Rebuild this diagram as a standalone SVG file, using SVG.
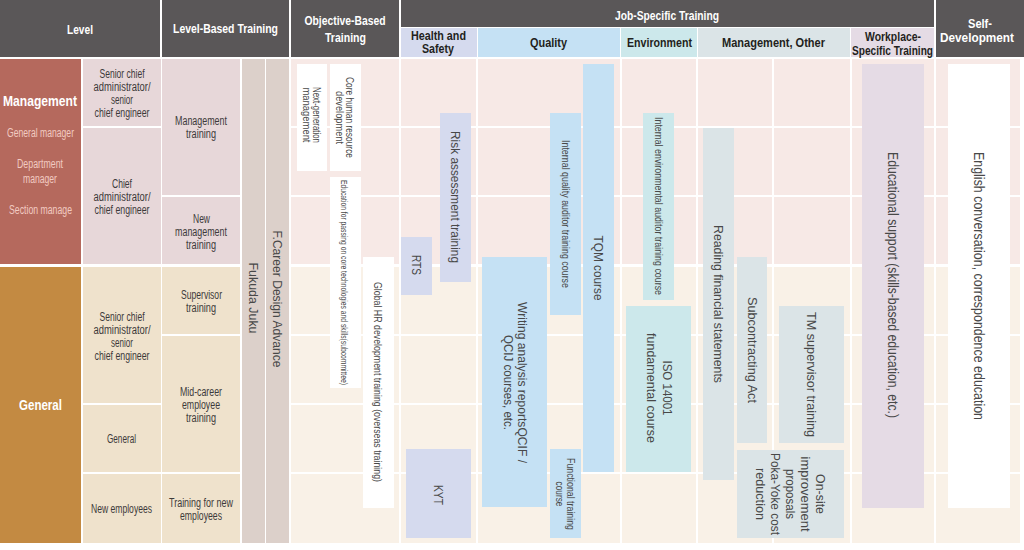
<svg xmlns="http://www.w3.org/2000/svg" width="1024" height="550" viewBox="0 0 1024 550">
<style>
text{font-family:"Liberation Sans",Arial,sans-serif}
.hd{font-weight:bold;font-size:13.5px;fill:#ffffff;text-anchor:middle}
.sh{font-weight:bold;font-size:13.5px;fill:#231f20;text-anchor:middle}
.sh2{font-weight:bold;font-size:12.5px;fill:#231f20;text-anchor:middle}
.lv{font-size:12px;fill:#3d3a3a;text-anchor:middle}
.lb{font-weight:bold;font-size:15.5px;fill:#ffffff;text-anchor:middle}
.ls{font-size:12px;fill:#f2cbc2;text-anchor:middle}
.bx{font-size:13px;fill:#484848;text-anchor:middle}
.sm{font-size:10.5px;fill:#484848;text-anchor:middle}
.xs{font-size:8.5px;fill:#484848;text-anchor:middle}
.dark{fill:#5a5758}
.mg{fill:#e7d7d9}
.gn{fill:#efe2cc}
.bar{fill:#dcd0ca}
.wht{fill:#ffffff}
.hs{fill:#d5daee}
.ql{fill:#c5e1f4}
.en{fill:#cce8eb}
.mo{fill:#dbe4e7}
.wp{fill:#e5dbe5}
.grid{stroke:#ffffff;stroke-width:2;fill:none}
</style>
<rect width="1024" height="550" fill="#ffffff"/>

<g id="header">
<rect class="dark" x="0" y="0" width="160" height="57"/>
<text class="hd" x="80" y="34" textLength="26" lengthAdjust="spacingAndGlyphs">Level</text>
<rect class="dark" x="162" y="0" width="127" height="57"/>
<text class="hd" x="225.5" y="33" textLength="105" lengthAdjust="spacingAndGlyphs">Level-Based Training</text>
<rect class="dark" x="291" y="0" width="108" height="57"/>
<text class="hd" x="345" y="25" textLength="81" lengthAdjust="spacingAndGlyphs">Objective-Based</text>
<text class="hd" x="345.5" y="41.5" textLength="41" lengthAdjust="spacingAndGlyphs">Training</text>
<rect class="dark" x="401" y="0" width="533" height="27"/>
<text class="hd" x="667" y="19.5" textLength="104" lengthAdjust="spacingAndGlyphs">Job-Specific Training</text>
<rect class="hs" x="401" y="28" width="76" height="29"/>
<text class="sh2" x="438.5" y="39.5" textLength="55" lengthAdjust="spacingAndGlyphs">Health and</text>
<text class="sh2" x="438" y="53" textLength="32" lengthAdjust="spacingAndGlyphs">Safety</text>
<rect class="ql" x="478" y="28" width="142" height="29"/>
<text class="sh" x="548.5" y="46.5" textLength="37" lengthAdjust="spacingAndGlyphs">Quality</text>
<rect class="en" x="621" y="28" width="76" height="29"/>
<text class="sh" x="659.5" y="46.5" textLength="65" lengthAdjust="spacingAndGlyphs">Environment</text>
<rect class="mo" x="698" y="28" width="152" height="29"/>
<text class="sh" x="773.5" y="46.5" textLength="103" lengthAdjust="spacingAndGlyphs">Management, Other</text>
<rect class="wp" x="851" y="28" width="83" height="29"/>
<text class="sh2" x="893" y="41" textLength="56" lengthAdjust="spacingAndGlyphs">Workplace-</text>
<text class="sh2" x="892.5" y="54.5" textLength="81" lengthAdjust="spacingAndGlyphs">Specific Training</text>
<rect class="dark" x="936" y="0" width="88" height="57"/>
<text class="hd" x="980" y="27.5" textLength="24" lengthAdjust="spacingAndGlyphs">Self-</text>
<text class="hd" x="977" y="41.5" textLength="74" lengthAdjust="spacingAndGlyphs">Development</text>
</g>

<g id="level-management">
<rect x="0" y="59" width="81" height="205" fill="#b5695d"/>
<text class="lb" x="40" y="106" textLength="74" lengthAdjust="spacingAndGlyphs">Management</text>
<text class="ls" x="40.5" y="137" textLength="67" lengthAdjust="spacingAndGlyphs">General manager</text>
<text class="ls" x="40" y="168" textLength="46" lengthAdjust="spacingAndGlyphs">Department</text>
<text class="ls" x="40" y="183" textLength="34" lengthAdjust="spacingAndGlyphs">manager</text>
<text class="ls" x="40.5" y="214" textLength="63" lengthAdjust="spacingAndGlyphs">Section manage</text>
</g>
<g id="level-general">
<rect x="0" y="267" width="81" height="276" fill="#c38a42"/>
<text class="lb" x="40.5" y="410" textLength="43" lengthAdjust="spacingAndGlyphs">General</text>
</g>

<g id="mgmt-senior-chief">
<rect class="mg" x="83" y="59" width="78" height="67"/>
<text class="lv" x="122" y="77.5" textLength="45" lengthAdjust="spacingAndGlyphs">Senior chief</text>
<text class="lv" x="122" y="90.5" textLength="57" lengthAdjust="spacingAndGlyphs">administrator/</text>
<text class="lv" x="122" y="103.5" textLength="22" lengthAdjust="spacingAndGlyphs">senior</text>
<text class="lv" x="122" y="116.5" textLength="55" lengthAdjust="spacingAndGlyphs">chief engineer</text>
</g>
<g id="mgmt-chief">
<rect class="mg" x="83" y="128" width="78" height="136"/>
<text class="lv" x="122" y="187.5" textLength="20" lengthAdjust="spacingAndGlyphs">Chief</text>
<text class="lv" x="122" y="200.5" textLength="57" lengthAdjust="spacingAndGlyphs">administrator/</text>
<text class="lv" x="122" y="213.5" textLength="55" lengthAdjust="spacingAndGlyphs">chief engineer</text>
</g>
<g id="gen-senior-chief">
<rect class="gn" x="83" y="267" width="78" height="136"/>
<text class="lv" x="122" y="320.5" textLength="45" lengthAdjust="spacingAndGlyphs">Senior chief</text>
<text class="lv" x="122" y="333.5" textLength="57" lengthAdjust="spacingAndGlyphs">administrator/</text>
<text class="lv" x="122" y="346.5" textLength="22" lengthAdjust="spacingAndGlyphs">senior</text>
<text class="lv" x="122" y="359.5" textLength="55" lengthAdjust="spacingAndGlyphs">chief engineer</text>
</g>
<g id="gen-general">
<rect class="gn" x="83" y="405" width="78" height="67"/>
<text class="lv" x="121.5" y="442.5" textLength="29" lengthAdjust="spacingAndGlyphs">General</text>
</g>
<g id="gen-new-employees">
<rect class="gn" x="83" y="474" width="78" height="69"/>
<text class="lv" x="121.5" y="512.5" textLength="61" lengthAdjust="spacingAndGlyphs">New employees</text>
</g>

<g id="management-training">
<rect class="mg" x="162" y="59" width="78" height="136"/>
<text class="lv" x="201" y="124.5" textLength="52" lengthAdjust="spacingAndGlyphs">Management</text>
<text class="lv" x="201" y="137.5" textLength="30" lengthAdjust="spacingAndGlyphs">training</text>
</g>
<g id="new-management-training">
<rect class="mg" x="162" y="197" width="78" height="67"/>
<text class="lv" x="201.5" y="222.5" textLength="17" lengthAdjust="spacingAndGlyphs">New</text>
<text class="lv" x="201" y="235.5" textLength="52" lengthAdjust="spacingAndGlyphs">management</text>
<text class="lv" x="201" y="248.5" textLength="30" lengthAdjust="spacingAndGlyphs">training</text>
</g>
<g id="supervisor-training">
<rect class="gn" x="162" y="267" width="78" height="67"/>
<text class="lv" x="201.5" y="298.5" textLength="41" lengthAdjust="spacingAndGlyphs">Supervisor</text>
<text class="lv" x="201" y="311.5" textLength="30" lengthAdjust="spacingAndGlyphs">training</text>
</g>
<g id="mid-career-training">
<rect class="gn" x="162" y="336" width="78" height="136"/>
<text class="lv" x="201" y="395.5" textLength="42" lengthAdjust="spacingAndGlyphs">Mid-career</text>
<text class="lv" x="201" y="408.5" textLength="38" lengthAdjust="spacingAndGlyphs">employee</text>
<text class="lv" x="201" y="421.5" textLength="30" lengthAdjust="spacingAndGlyphs">training</text>
</g>
<g id="new-employee-training">
<rect class="gn" x="162" y="474" width="78" height="69"/>
<text class="lv" x="201" y="506.5" textLength="64" lengthAdjust="spacingAndGlyphs">Training for new</text>
<text class="lv" x="201" y="519.5" textLength="42" lengthAdjust="spacingAndGlyphs">employees</text>
</g>

<g id="fukuda-juku">
<rect class="bar" x="242" y="59" width="23" height="484"/>
<text class="bx" transform="translate(253.5,298) rotate(90)" x="0" y="4.5" textLength="71" lengthAdjust="spacingAndGlyphs">Fukuda Juku</text>
</g>
<g id="career-design-advance">
<rect class="bar" x="266" y="59" width="23" height="484"/>
<text class="bx" transform="translate(277.5,299) rotate(90)" x="0" y="4.5" textLength="137" lengthAdjust="spacingAndGlyphs">F.Career Design Advance</text>
</g>

<g id="grid">
<rect x="291" y="59" width="729" height="205" fill="#f7e9e6"/>
<rect x="291" y="267" width="729" height="276" fill="#f9f1e7"/>
<path class="grid" d="M291 127H1020M291 196H1020M291 335H1020M291 404H1020M291 473H1020M400 59V543M477 59V543M621 59V543M697 59V543M773 59V543M851 59V543M935 59V543"/>
</g>

<g id="next-generation-management">
<rect class="wht" x="297" y="64" width="30" height="107"/>
<text class="sm" transform="translate(311.5,115) rotate(90)"><tspan x="0" y="-1" textLength="56" lengthAdjust="spacingAndGlyphs">Next-generation</tspan><tspan x="0" y="9" textLength="55" lengthAdjust="spacingAndGlyphs">management</tspan></text>
</g>
<g id="core-hr-development">
<rect class="wht" x="330" y="64" width="31" height="107"/>
<text class="sm" transform="translate(345.5,117.5) rotate(90)"><tspan x="0" y="0" textLength="81" lengthAdjust="spacingAndGlyphs">Core human resource</tspan><tspan x="0" y="10" textLength="53" lengthAdjust="spacingAndGlyphs">development</tspan></text>
</g>
<g id="core-tech-education">
<rect class="wht" x="330" y="177" width="31" height="211"/>
<text class="xs" transform="translate(345.5,282.5) rotate(90)" x="0" y="4.5" textLength="205" lengthAdjust="spacingAndGlyphs">Education for passing on core technologies and skills(subcommittee)</text>
</g>
<g id="global-hr-training">
<rect class="wht" x="363" y="257" width="31" height="251"/>
<text class="sm" transform="translate(378.5,382) rotate(90)" x="0" y="5" textLength="200" lengthAdjust="spacingAndGlyphs">Global HR development training (overseas training)</text>
</g>

<g id="risk-assessment">
<rect class="hs" x="440" y="113" width="31" height="169"/>
<text class="bx" transform="translate(455.5,197) rotate(90)" x="0" y="4.5" textLength="132" lengthAdjust="spacingAndGlyphs">Risk assessment training</text>
</g>
<g id="rts">
<rect class="hs" x="401" y="237" width="31" height="58"/>
<text class="bx" transform="translate(416.5,265) rotate(90)" x="0" y="4.5" textLength="20" lengthAdjust="spacingAndGlyphs">RTS</text>
</g>
<g id="kyt">
<rect class="hs" x="406" y="449" width="65" height="89"/>
<text class="bx" transform="translate(438.5,495) rotate(90)" x="0" y="4.5" textLength="20" lengthAdjust="spacingAndGlyphs">KYT</text>
</g>

<g id="writing-analysis">
<rect class="ql" x="482" y="257" width="65" height="250"/>
<text class="bx" transform="translate(514.5,382.5) rotate(90)"><tspan x="0" y="-3" textLength="161" lengthAdjust="spacingAndGlyphs">Writing analysis reportsQCIF /</tspan><tspan x="0" y="11" textLength="95" lengthAdjust="spacingAndGlyphs">QCIJ courses, etc.</tspan></text>
</g>
<g id="internal-quality-auditor">
<rect class="ql" x="550" y="113" width="31" height="202"/>
<text class="sm" transform="translate(565.5,214) rotate(90)" x="0" y="4" textLength="148" lengthAdjust="spacingAndGlyphs">Internal quality auditor training course</text>
</g>
<g id="functional-training">
<rect class="ql" x="550" y="449" width="31" height="89"/>
<text class="sm" transform="translate(565.5,494) rotate(90)"><tspan x="0" y="-1" textLength="72" lengthAdjust="spacingAndGlyphs">Functional training</tspan><tspan x="0" y="10" textLength="25" lengthAdjust="spacingAndGlyphs">course</tspan></text>
</g>
<g id="tqm-course">
<rect class="ql" x="583" y="64" width="31" height="408"/>
<text class="bx" transform="translate(598.5,268) rotate(90)" x="0" y="4.5" textLength="65" lengthAdjust="spacingAndGlyphs">TQM course</text>
</g>

<g id="internal-env-auditor">
<rect class="en" x="643" y="113" width="31" height="187"/>
<text class="sm" transform="translate(658.5,206) rotate(90)" x="0" y="4" textLength="178" lengthAdjust="spacingAndGlyphs">Internal environmental auditor training course</text>
</g>
<g id="iso14001">
<rect class="en" x="626" y="306" width="65" height="166"/>
<text class="bx" transform="translate(658.5,388) rotate(90)"><tspan x="0" y="-4" textLength="55" lengthAdjust="spacingAndGlyphs">ISO 14001</tspan><tspan x="0" y="12" textLength="110" lengthAdjust="spacingAndGlyphs">fundamental course</tspan></text>
</g>

<g id="reading-financial">
<rect class="mo" x="703" y="128" width="31" height="352"/>
<text class="bx" transform="translate(718.5,304) rotate(90)" x="0" y="4.5" textLength="158" lengthAdjust="spacingAndGlyphs">Reading financial statements</text>
</g>
<g id="subcontracting-act">
<rect class="mo" x="737" y="257" width="30" height="186"/>
<text class="bx" transform="translate(752,350) rotate(90)" x="0" y="4.5" textLength="106" lengthAdjust="spacingAndGlyphs">Subcontracting Act</text>
</g>
<g id="tm-supervisor">
<rect class="mo" x="779" y="306" width="65" height="137"/>
<text class="bx" transform="translate(811.5,374.5) rotate(90)" x="0" y="4.5" textLength="125" lengthAdjust="spacingAndGlyphs">TM supervisor training</text>
</g>
<g id="onsite-improvement">
<rect class="mo" x="737" y="450" width="107" height="88"/>
<text class="bx" transform="translate(790.5,494) rotate(90)"><tspan x="0" y="-25.5" textLength="40" lengthAdjust="spacingAndGlyphs">On-site</tspan><tspan x="0" y="-10.5" textLength="75" lengthAdjust="spacingAndGlyphs">improvement</tspan><tspan x="0" y="4.5" textLength="50" lengthAdjust="spacingAndGlyphs">proposals</tspan><tspan x="0" y="19.5" textLength="82" lengthAdjust="spacingAndGlyphs">Poka-Yoke cost</tspan><tspan x="0" y="34.5" textLength="52" lengthAdjust="spacingAndGlyphs">reduction</tspan></text>
</g>

<g id="educational-support">
<rect class="wp" x="862" y="64" width="62" height="444"/>
<text class="bx" style="font-size:14px" transform="translate(893,285) rotate(90)" x="0" y="5" textLength="266" lengthAdjust="spacingAndGlyphs">Educational support (skills-based education, etc.)</text>
</g>
<g id="english-conversation">
<rect class="wht" x="948" y="64" width="62" height="444"/>
<text class="bx" style="font-size:14px" transform="translate(979,286) rotate(90)" x="0" y="5" textLength="268" lengthAdjust="spacingAndGlyphs">English conversation, correspondence education</text>
</g>

<g id="connectors"/>
</svg>
